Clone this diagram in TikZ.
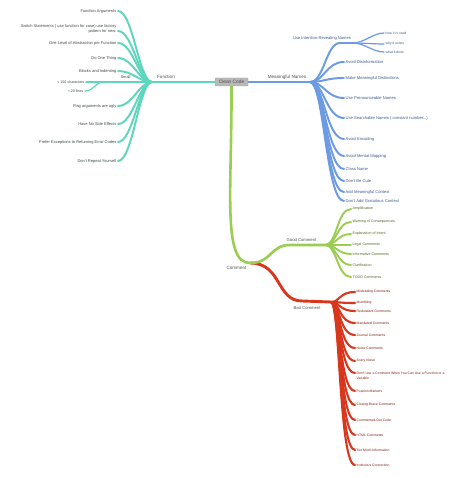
\documentclass[tikz,border=0pt]{standalone}
\usepackage{fontspec}
\setmainfont{Liberation Sans}
\definecolor{tealL}{HTML}{5ED6BD}
\definecolor{blueL}{HTML}{6C9BE3}
\definecolor{greenL}{HTML}{9ACD51}
\definecolor{redL}{HTML}{D9361E}
\definecolor{tealT}{HTML}{3F4A48}
\definecolor{blueT}{HTML}{3C5A8C}
\definecolor{greenT}{HTML}{4F6420}
\definecolor{redT}{HTML}{7D1D14}
\definecolor{lblT}{HTML}{505050}
\begin{document}
\begin{tikzpicture}[x=1pt,y=-1pt,
  lbl/.style={inner sep=0pt,text=lblT,font=\fontsize{4.6}{5}\selectfont},
  tchild/.style={anchor=east,inner xsep=1.5pt,inner ysep=0.3pt,text=tealT,font=\fontsize{4}{5.6}\selectfont,align=right},
  tsub/.style={anchor=east,inner xsep=1.5pt,inner ysep=0.3pt,text=tealT,font=\fontsize{3.6}{4.2}\selectfont},
  bchild/.style={anchor=west,inner xsep=1.5pt,inner ysep=0.3pt,text=blueT,font=\fontsize{4.1}{5}\selectfont},
  bsub/.style={anchor=west,inner xsep=1.5pt,inner ysep=0.3pt,text=blueT,font=\fontsize{3.4}{4}\selectfont},
  gchild/.style={anchor=west,inner xsep=1.5pt,inner ysep=0.3pt,text=greenT,font=\fontsize{3.6}{4.2}\selectfont},
  rchild/.style={anchor=west,inner xsep=1.5pt,inner ysep=0.3pt,text=redT,font=\fontsize{3.4}{5}\selectfont,align=left},
  tmain/.style={draw=tealL,line width=2.6pt},
  bmain/.style={draw=blueL,line width=2.6pt},
  gmain/.style={draw=greenL,line width=2.6pt},
  rmain/.style={draw=redL,line width=2.9pt},
  tline/.style={draw=tealL,line width=1.95pt,line cap=round},
  bline/.style={draw=blueL,line width=1.95pt,line cap=round},
  gline/.style={draw=greenL,line width=1.9pt,line cap=round},
  rline/.style={draw=redL,line width=2.1pt,line cap=round},
  tthin/.style={draw=tealL,line width=1.2pt,line cap=round},
  bthin/.style={draw=blueL,line width=1.2pt,line cap=round},
  rootbox/.style={draw=gray!75,fill=gray!55,rounded corners=0.6pt,minimum width=33pt,minimum height=8pt,inner sep=0.5pt,text=black!70,font=\fontsize{4.8}{5}\selectfont}
]
\useasboundingbox (0,0) rectangle (474,478);
\fill[white] (0,0) rectangle (474,478);

% hubs
\coordinate (fhub) at (152,82);
\coordinate (smhub) at (104,82);
\coordinate (mhub) at (310,82);
\coordinate (irc) at (340,43);
\coordinate (irhub) at (353,43);
\coordinate (chub) at (250,263);
\coordinate (gc) at (290,245);
\coordinate (ghub) at (325,245);
\coordinate (rc) at (302,301);
\coordinate (rhub) at (331,302);

% ---------- Function (teal) ----------
\node[tchild] (f1) at (118,11) {Function Arguments};
\node[tchild] (f2) at (118,29) {Switch Statements ( use function for case) use factory\\pattern for new:};
\node[tchild] (f3) at (118,43) {One Level of Abstraction per Function};
\node[tchild] (f4) at (118,58) {Do One Thing};
\node[tchild] (f5) at (118,71) {Blocks and Indenting};
\node[tsub] (s1) at (86,82) {< 150 characters};
\node[tsub] (s2) at (85,91) {< 20 lines};
\node[tchild] (f6) at (118,106) {Flag arguments are ugly};
\node[tchild] (f7) at (118,124) {Have No Side Effects};
\node[tchild] (f8) at (118,142) {Prefer Exceptions to Returning Error Codes};
\node[tchild] (f9) at (118,161) {Don't Repeat Yourself};

\foreach \n in {f1,f3,f4,f5,f6,f7,f8,f9}
  \draw[tline] (fhub) .. controls +(-13,0) and +(15,0) .. (\n.east);
\draw[tline] (fhub) .. controls +(-13,0) and +(15,0) .. ([yshift=-2pt]f2.east);
\draw[tline,line width=2.1pt] (fhub) -- (smhub);
\draw[tthin] (smhub) -- (s1.east);
\draw[tthin] (smhub) .. controls +(-9,0) and +(9,0) .. (s2.east);
\node[tchild,anchor=center] (small) at (125.5,77.5) {Small};

% ---------- Meaningful Names (blue) ----------
\node[bchild] (m1) at (344,62) {Avoid Disinformation};
\node[bchild] (m2) at (344,78) {Make Meaningful Distinctions};
\node[bchild] (m3) at (344,98) {Use Pronounceable Names};
\node[bchild] (m4) at (344,118) {Use Searchable Names ( constant number...)};
\node[bchild] (m5) at (344,139) {Avoid Encoding};
\node[bchild] (m6) at (344,156) {Avoid Mental Mapping};
\node[bchild] (m7) at (344,169) {Class Name};
\node[bchild] (m8) at (344,181) {Don't Be Cute};
\node[bchild] (m9) at (344,192) {Add Meaningful Context};
\node[bchild] (m10) at (344,201) {Don't Add Gratuitous Context};
\node[bsub] (i1) at (384,33) {how it is used};
\node[bsub] (i2) at (384,44) {why it exists};
\node[bsub] (i3) at (384,52) {what it does};

\foreach \n in {m1,m2,m3,m4,m5,m6,m7,m8,m9,m10}
  \draw[bline] (mhub) .. controls +(14,0) and +(-18,0) .. (\n.west);
\draw[bline] (mhub) .. controls +(14,0) and +(-14,0) .. (irc) -- (irhub);
\foreach \n in {i1,i2,i3}
  \draw[bthin] (irhub) .. controls +(11,0) and +(-11,0) .. (\n.west);
\node[bchild,anchor=center] (m0) at (322,38) {Use Intention-Revealing Names};

% ---------- Comment (green / red) ----------
\node[gchild] (g1) at (351,209) {Amplification};
\node[gchild] (g2) at (351,222) {Warning of Consequences};
\node[gchild] (g3) at (351,234) {Explanation of Intent};
\node[gchild] (g4) at (351,245) {Legal Comments};
\node[gchild] (g5) at (351,254) {Informative Comments};
\node[gchild] (g6) at (351,265) {Clarification};
\node[gchild] (g7) at (351,277) {TODO Comments};

\node[rchild] (r1) at (355,292) {Misleading Comments};
\node[rchild] (r2) at (355,303) {Mumbling};
\node[rchild] (r3) at (355,311) {Redundant Comments};
\node[rchild] (r4) at (355,323) {Mandated Comments};
\node[rchild] (r5) at (355,335) {Journal Comments};
\node[rchild] (r6) at (355,348) {Noise Comments};
\node[rchild] (r7) at (355,361) {Scary Noise};
\node[rchild] (r8) at (355,375.5) {Don't Use a Comment When You Can Use a Function or a\\Variable};
\node[rchild] (r9) at (355,391) {Position Markers};
\node[rchild] (r10) at (355,405) {Closing Brace Comments};
\node[rchild] (r11) at (355,420) {Commented-Out Code};
\node[rchild] (r12) at (355,435) {HTML Comments};
\node[rchild] (r13) at (355,450) {Too Much Information};
\node[rchild] (r14) at (355,465) {Inobvious Connection};

\foreach \n in {g1,g2,g3,g4,g5,g6,g7}
  \draw[gline] (ghub) .. controls +(12,0) and +(-14,0) .. (\n.west);
\foreach \n in {r1,r2,r3,r4,r5,r6,r7,r9,r10,r11,r12,r13,r14}
  \draw[rline] (rhub) .. controls +(9,0) and +(-16,0) .. (\n.west);
\draw[rline] (rhub) .. controls +(9,0) and +(-16,0) .. ([yshift=2.5pt]r8.west);

\draw[rmain] (chub) .. controls +(32,0) and +(-26,0) .. (rc) -- (rhub);
\draw[gmain] (chub) .. controls +(22,0) and +(-20,0) .. (gc) -- (ghub);

% ---------- root and main branches ----------
\node[rootbox] (root) at (231.5,82) {Clean Code};
\draw[gmain] (root.south) .. controls (232,190) and (222,263) .. (chub);
\draw[tmain] (root.west) -- (fhub);
\draw[bmain] (root.east) -- (mhub);

\node[lbl] (lf) at (166,77.3) {Function};
\node[lbl] (lm) at (287,77.3) {Meaningful Names};
\node[lbl] (lc) at (236.5,267.5) {Comment};
\node[lbl,font=\fontsize{4.2}{5}\selectfont] (lg) at (301.5,240) {Good Comment};
\node[lbl,font=\fontsize{4.2}{5}\selectfont] (lb) at (307,308) {Bad Comment};
\end{tikzpicture}
\end{document}
